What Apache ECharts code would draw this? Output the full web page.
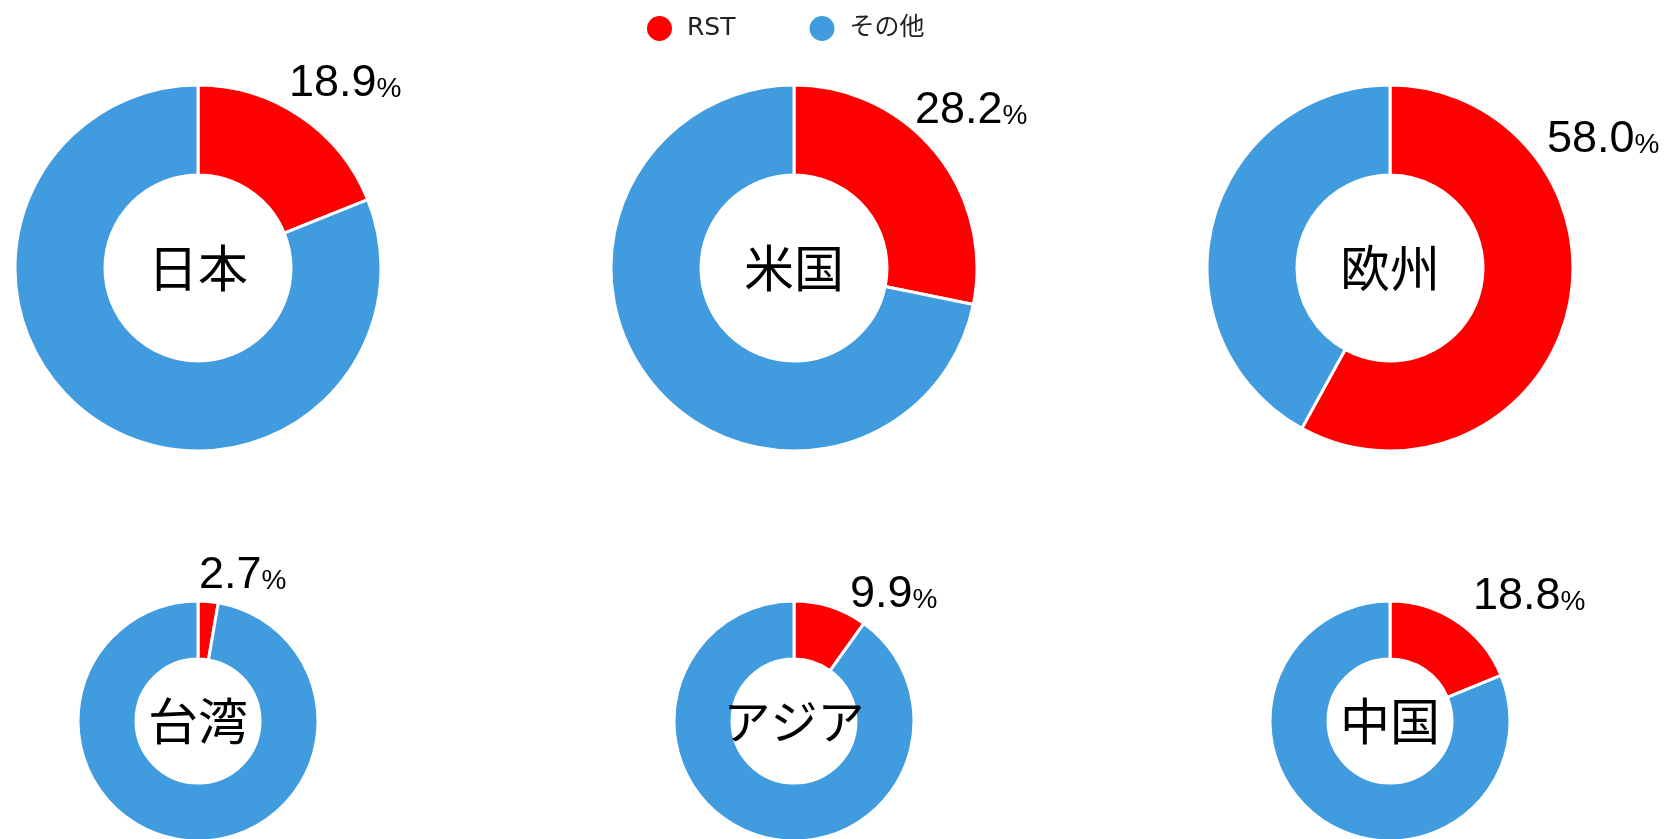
<!DOCTYPE html>
<html>
<head>
    <meta charset="UTF-8">
    <title></title>
    <style>
        html, body { margin: 0; padding: 0; background: #fff; }
    </style>
</head>
<body>
<div id="main" style="width: 1672px;height:839px;"></div>
<script type="text/javascript" src="https://cdn.jsdelivr.net/npm/echarts@6/dist/echarts.min.js"></script>
<script type="text/javascript">
    // 地域ごとの RST シェア (%)
    var regions = ['日本', '米国', '欧州', '台湾', 'アジア', '中国'];
    var rstShare = [18.9, 28.2, 58.0, 2.7, 9.9, 18.8];
    var otherShare = [81.1, 71.8, 42.0, 97.3, 90.1, 81.2];
    var legendNames = ['RST', 'その他'];

    // レイアウト
    var colX = [198, 794, 1390];
    var rowY = [268, 721];
    var radii = [[93, 183], [93, 183], [93, 183], [62, 120], [62, 120], [62, 120]];
    var nameSize = [50, 50, 50, 50, 47, 50];
    // ラベルの位置（中心からのずれ）
    var labelOffset = [[91, -207], [121, -180], [157, -151], [1, -168], [56, -149], [83, -147]];

    var myChart = echarts.init(document.getElementById('main'));

    var series = regions.map(function (name, i) {
        var cx = colX[i % 3], cy = rowY[Math.floor(i / 3)];
        return {
            name: name,
            type: 'pie',
            center: [cx, cy],
            radius: radii[i],
            startAngle: 90,
            clockwise: true,
            avoidLabelOverlap: false,
            emphasis: { disabled: true },
            itemStyle: { borderColor: '#fff', borderWidth: 3 },
            labelLine: { show: false },
            labelLayout: function (params) {
                if (params.dataIndex !== 0) return;
                return {
                    x: cx + labelOffset[i][0],
                    y: cy + labelOffset[i][1],
                    align: 'left',
                    verticalAlign: 'top'
                };
            },
            data: [
                {
                    name: legendNames[0],
                    value: rstShare[i],
                    itemStyle: { color: '#ff0000' },
                    label: {
                        show: true,
                        position: 'outside',
                        formatter: '{a|' + rstShare[i].toFixed(1) + '}{b|%}',
                        rich: {
                            a: { fontSize: 45, lineHeight: 45, color: '#000', fontFamily: 'Liberation Sans', verticalAlign: 'bottom' },
                            b: { fontSize: 28, lineHeight: 28, color: '#000', fontFamily: 'Liberation Sans', verticalAlign: 'bottom', padding: [0, 0, 3, 0] }
                        }
                    }
                },
                {
                    name: legendNames[1],
                    value: otherShare[i],
                    itemStyle: { color: '#419bdf' },
                    label: {
                        show: true,
                        position: 'center',
                        formatter: name,
                        fontSize: nameSize[i],
                        padding: [6, 0, 0, 0],
                        color: '#000',
                        fontFamily: 'Noto Sans CJK JP'
                    }
                }
            ]
        };
    });

    var option = {
        animation: false,
        legend: {
            data: legendNames,
            left: 640,
            top: 9,
            icon: 'circle',
            itemWidth: 45,
            itemHeight: 27,
            itemGap: 72,
            textStyle: { fontSize: 25, color: '#222', fontFamily: "'DejaVu Sans', 'Noto Sans CJK JP'" }
        },
        series: series
    };

    myChart.setOption(option);
</script>
</body>
</html>
